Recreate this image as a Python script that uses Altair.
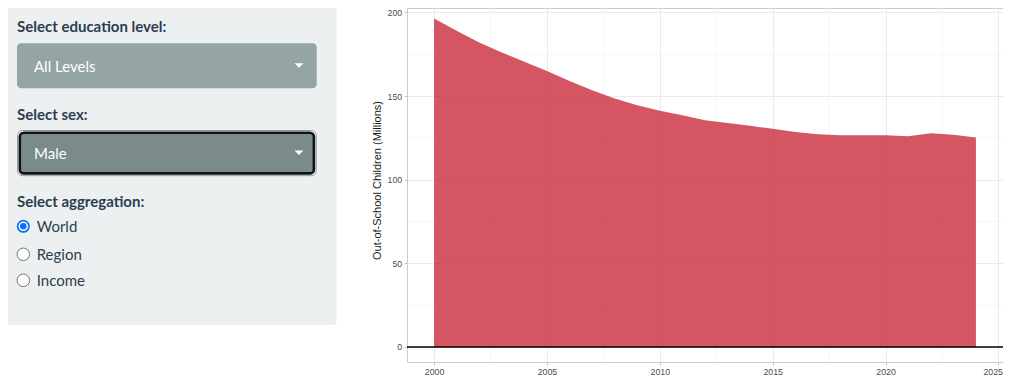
import altair as alt
import pandas as pd

# ---------------- data ----------------
years = list(range(2000, 2025))
values = [196.3, 189.0, 182.0, 176.0, 170.5, 165.0, 159.0, 153.5, 148.5, 144.5,
          141.2, 138.5, 135.5, 133.8, 132.2, 130.4, 128.5, 127.2, 126.6, 126.6,
          126.6, 126.0, 127.8, 126.8, 125.2]
x_ticks = [2000, 2005, 2010, 2015, 2020, 2025]
x_minor = [2002.5, 2007.5, 2012.5, 2017.5, 2022.5]
y_ticks = [0, 50, 100, 150, 200]
y_minor = [25, 75, 125, 175]
y_title = "Out-of-School Children (Millions)"

sidebar_labels = ["Select education level:", "Select sex:", "Select aggregation:"]
dropdown_values = ["All Levels", "Male"]
radio_options = ["World", "Region", "Income"]
radio_checked = "World"

# ---------------- layout ----------------
PLOT_W, PLOT_H = 596, 354
OX, OY = 407, 8  # page position of the plot area's origin


def px(x):
    return x - OX


def py(y):
    return y - OY


df = pd.DataFrame({"year": years, "value": values})
xs = alt.Scale(domain=[1998.8, 2025.2], nice=False, zero=False)
ys = alt.Scale(domain=[-8.97, 202.6], nice=False, zero=False)

one = pd.DataFrame({"a": [0]})

AX_FONT = "Liberation Sans"
UI_FONT = "Lato"
TXT = "#2c3e50"

last_tick = x_ticks[-1]
ax_x = alt.Axis(values=x_ticks, format="d", title=None, grid=True,
                labelOverlap=False, labelFlush=False,
                labelAlign={"condition": {"test": f"datum.value == {last_tick}",
                                          "value": "right"},
                            "value": "center"},
                labelOffset={"condition": {"test": f"datum.value == {last_tick}",
                                           "value": 4},
                             "value": 0})
ax_y = alt.Axis(values=y_ticks, title=y_title, grid=True,
                titleX=-30, titleY=172, titleAngle=270,
                titleAlign="center", titleBaseline="middle")

# ---------------- plot layers ----------------
minor_x = alt.Chart(pd.DataFrame({"year": x_minor})).mark_rule(
    color="#f2f2f2", strokeWidth=0.7
).encode(x=alt.X("year:Q", scale=xs, axis=ax_x))

minor_y = alt.Chart(pd.DataFrame({"value": y_minor})).mark_rule(
    color="#f2f2f2", strokeWidth=0.7
).encode(y=alt.Y("value:Q", scale=ys, axis=ax_y))

area = alt.Chart(df).mark_area(color="#CA2C3C", opacity=0.8).encode(
    x=alt.X("year:Q", scale=xs, axis=ax_x),
    y=alt.Y("value:Q", scale=ys, axis=ax_y),
    y2=alt.datum(0),
)

zero_line = alt.Chart(pd.DataFrame({"value": [0]})).mark_rule(
    color="black", strokeWidth=1.4
).encode(y=alt.Y("value:Q", scale=ys, axis=ax_y))

# ---------------- sidebar (UI chrome) ----------------
layers = []


def rect(x0, y0, x1, y1, **kw):
    return alt.Chart(one).mark_rect(**kw).encode(
        x=alt.value(px(x0)), x2=alt.value(px(x1)),
        y=alt.value(py(y0)), y2=alt.value(py(y1)))


def text(s, x, y, **kw):
    return alt.Chart(one).mark_text(text=s, align="left", baseline="alphabetic",
                                    font=UI_FONT, fontSize=15, **kw).encode(
        x=alt.value(px(x)), y=alt.value(py(y)))


def dot(x, y, size, **kw):
    return alt.Chart(one).mark_point(shape="circle", size=size, **kw).encode(
        x=alt.value(px(x)), y=alt.value(py(y)))


caret_shape = "M-1,-0.5L1,-0.5L0,0.5Z"


def caret(x, y):
    return alt.Chart(one).mark_point(shape=caret_shape, size=81, filled=True,
                                     color="white", opacity=1).encode(
        x=alt.value(px(x)), y=alt.value(py(y)))


layers.append(rect(-20, -20, 336.7, 325, color="#ecf0f1", cornerRadius=4))

layers.append(text(sidebar_labels[0], 17, 32, color=TXT, fontWeight="bold"))
layers.append(rect(17, 43.3, 316.7, 88.3, color="#95a5a6", cornerRadius=4))
layers.append(text(dropdown_values[0], 34, 71.5, color="white"))
layers.append(caret(299, 65.5))

layers.append(text(sidebar_labels[1], 17, 120, color=TXT, fontWeight="bold"))
layers.append(rect(17.5, 130.5, 316.2, 175.7, fill="white", stroke="#8c9a9b",
                   strokeWidth=1, cornerRadius=5))
layers.append(rect(19.8, 132.8, 313.9, 173.4, fill="#7b8a8b", stroke="#111111",
                   strokeWidth=2.6, cornerRadius=4))
layers.append(text(dropdown_values[1], 34, 158.5, color="white"))
layers.append(caret(299, 152.8))

layers.append(text(sidebar_labels[2], 17, 206.5, color=TXT, fontWeight="bold"))

radio_y = [226.3, 254.3, 280.3]
radio_base = [232, 259.5, 285.5]
for opt, cy, by in zip(radio_options, radio_y, radio_base):
    if opt == radio_checked:
        layers.append(dot(23.3, cy, 169, filled=True, color="#0b6efd", opacity=1))
        layers.append(dot(23.3, cy, 90, filled=True, color="white", opacity=1))
        layers.append(dot(23.3, cy, 42, filled=True, color="#0b6efd", opacity=1))
    else:
        layers.append(dot(23.3, cy, 156, filled=True, fill="white", stroke="#767676",
                          strokeWidth=1, opacity=1))
    layers.append(text(opt, 36.7, by, color=TXT))

chart = alt.layer(minor_x, minor_y, area, zero_line, *layers).properties(
    width=PLOT_W, height=PLOT_H,
    autosize=alt.AutoSizeParams(type="none"),
    padding={"left": 399, "top": 0, "right": 0, "bottom": 16},
).configure_view(
    stroke="#cccccc", strokeWidth=1
).configure_axis(
    labelFont=AX_FONT, labelFontSize=8.8, labelColor="#4d4d4d",
    tickColor="#b3b3b3", tickSize=2.75, tickWidth=0.8, domain=False,
    gridColor="#e9e9e9", gridWidth=0.9, labelPadding=2.5,
    titleFont=AX_FONT, titleFontSize=11, titleColor="#1a1a1a",
    titleFontWeight="normal",
)

chart.save("out.html", embed_options={"renderer": "svg", "actions": False})
